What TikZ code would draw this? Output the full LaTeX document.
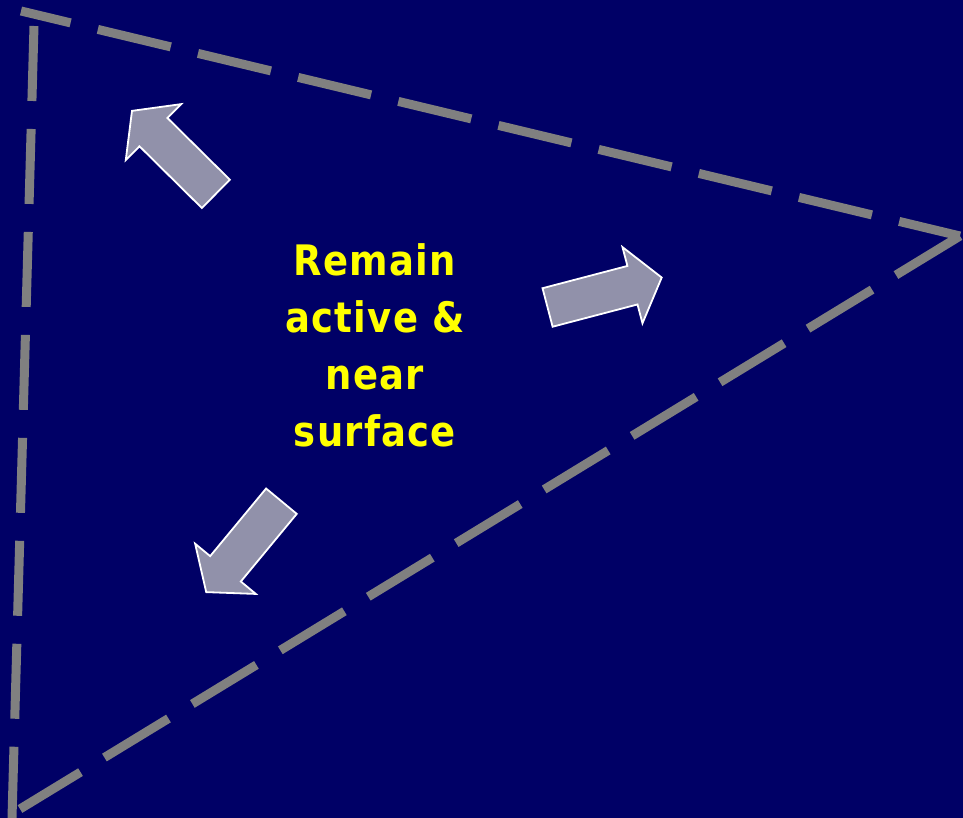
\documentclass[tikz,border=0pt]{standalone}
\usepackage{fontspec}
\setsansfont{DejaVu Sans}[FakeStretch=0.88,LetterSpace=3]
\usepackage{tikz}
\usetikzlibrary{shapes.arrows,positioning}
\definecolor{navybg}{RGB}{0,0,102}
\definecolor{dashgray}{RGB}{128,128,128}
\definecolor{arrowgray}{RGB}{145,145,170}
\definecolor{labelyellow}{RGB}{255,255,0}
\tikzset{
  side/.style={draw=dashgray,line width=9pt,dash pattern=on 75pt off 28pt},
  blockarr/.style={single arrow,draw=white,fill=arrowgray,line width=1.8pt,
    minimum height=118pt,minimum width=0pt,single arrow head extend=19.5pt,
    inner xsep=0pt,inner ysep=19pt,single arrow tip angle=105,anchor=tail},
  lbl/.style={text=labelyellow,align=center,inner sep=0pt,
    font=\fontsize{42}{57}\selectfont\sffamily\bfseries}
}

\begin{document}
\begin{tikzpicture}[x=1pt,y=-1pt]
    % Background
    \fill[navybg] (0,0) rectangle (963,818);
    \useasboundingbox (0,0) rectangle (963,818);

    % Corners of the triangle
    \coordinate (topstart) at (21,11);
    \coordinate (apex) at (960,236);
    \coordinate (bottomend) at (20,809);
    \coordinate (leftstart) at (34,26);
    \coordinate (leftend) at (12,818);

    % Dashed sides
    \draw[side,dash phase=24pt] (topstart) -- (apex);
    \draw[side] (apex) -- (bottomend);
    \draw[side] (leftstart) -- (leftend);

    % Label
    \node[lbl] (label) at (375,345) {Remain\\active \&\\near\\surface};

    % Arrows
    \node[blockarr,rotate=135.3] (upleft) at (216.5,194.5) {};
    \node[blockarr,rotate=14.7] (right) at (546.7,307.7) {};
    \node[blockarr,rotate=230.4] (downleft) at (282,500.5) {};
  \end{tikzpicture}
\end{document}
